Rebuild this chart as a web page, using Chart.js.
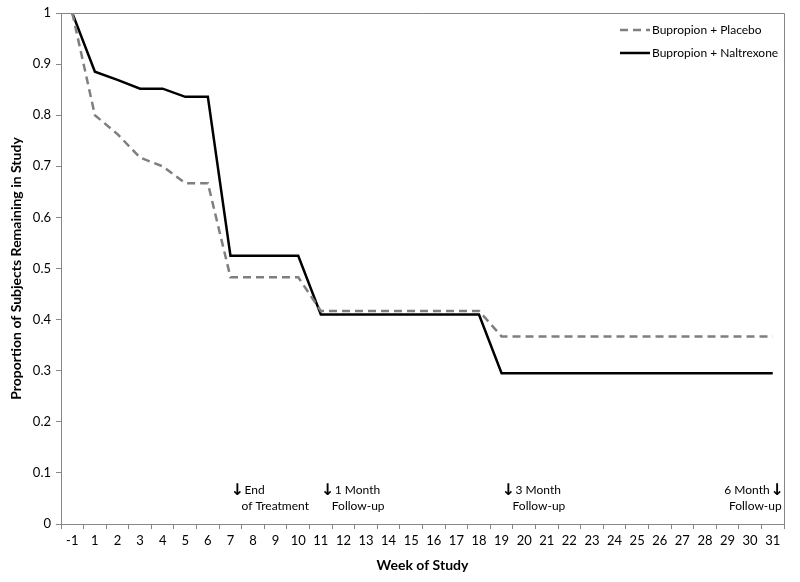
<!DOCTYPE html>
<html>
<head>
<meta charset="utf-8">
<script src="https://cdn.jsdelivr.net/npm/chart.js@4/dist/chart.umd.min.js"></script>
<style>
  html, body { margin: 0; padding: 0; background: #fff; }
  #wrap { width: 800px; height: 582px; }
</style>
</head>
<body>
<div id="wrap"><canvas id="chart" width="800" height="582"></canvas></div>
<script>
// weeks on the x axis (no week 0)
var weeks = ['-1','1','2','3','4','5','6','7','8','9','10','11','12','13','14','15','16','17','18','19','20','21','22','23','24','25','26','27','28','29','30','31'];

// proportion remaining
var placebo = [1.0, 0.80, 0.763, 0.717, 0.70, 0.667, 0.667, 0.483, 0.483, 0.483, 0.483,
  0.417, 0.417, 0.417, 0.417, 0.417, 0.417, 0.417, 0.417,
  0.367, 0.367, 0.367, 0.367, 0.367, 0.367, 0.367, 0.367, 0.367, 0.367, 0.367, 0.367, 0.367];
var naltrexone = [1.0, 0.885, 0.869, 0.852, 0.852, 0.836, 0.836, 0.525, 0.525, 0.525, 0.525,
  0.41, 0.41, 0.41, 0.41, 0.41, 0.41, 0.41, 0.41,
  0.295, 0.295, 0.295, 0.295, 0.295, 0.295, 0.295, 0.295, 0.295, 0.295, 0.295, 0.295, 0.295];

var yTicks = [0, 0.1, 0.2, 0.3, 0.4, 0.5, 0.6, 0.7, 0.8, 0.9, 1];

// study milestones: week label, text lines, arrow side
var milestones = [
  { week: '7',  lines: ['End', 'of Treatment'], side: 'left' },
  { week: '11', lines: ['1 Month', 'Follow-up'], side: 'left' },
  { week: '19', lines: ['3 Month', 'Follow-up'], side: 'left' },
  { week: '31', lines: ['6 Month', 'Follow-up'], side: 'right' }
];

var FONT = 'Lato, "Open Sans", sans-serif';
var AXIS_GREY = '#868686';

// frame, legend and milestone notes
var extras = {
  id: 'extras',
  afterDraw: function(chart) {
    var ctx = chart.ctx, a = chart.chartArea, x = chart.scales.x;
    ctx.save();
    // top + right frame lines
    ctx.strokeStyle = AXIS_GREY;
    ctx.lineWidth = 1;
    ctx.beginPath();
    ctx.moveTo(a.left, a.top + 0.5);
    ctx.lineTo(a.right + 0.5, a.top + 0.5);
    ctx.lineTo(a.right + 0.5, a.bottom);
    ctx.stroke();

    // legend (top right, inside plot)
    ctx.font = '12px ' + FONT;
    ctx.fillStyle = '#000';
    ctx.textBaseline = 'middle';
    ctx.textAlign = 'left';
    chart.data.datasets.forEach(function(ds, i) {
      var ly = a.top + 17 + i * 23;
      var lx = a.right - 164;
      ctx.strokeStyle = ds.borderColor;
      ctx.lineWidth = ds.borderWidth;
      ctx.setLineDash(ds.borderDash || []);
      ctx.beginPath();
      ctx.moveTo(lx, ly);
      ctx.lineTo(lx + 30, ly);
      ctx.stroke();
      ctx.setLineDash([]);
      ctx.fillText(ds.label, lx + 32, ly);
    });

    // milestone notes above the x axis
    var baseY = chart.scales.y.getPixelForValue(0);
    milestones.forEach(function(m) {
      var px = x.getPixelForValue(weeks.indexOf(m.week));
      ctx.fillStyle = '#000';
      ctx.textBaseline = 'alphabetic';
      if (m.side === 'left') {
        ctx.font = 'bold 16px "DejaVu Sans", sans-serif';
        ctx.textAlign = 'left';
        ctx.fillText('\u2193', px + 0, baseY - 29);
        ctx.font = '12px ' + FONT;
        ctx.fillText(m.lines[0], px + 14, baseY - 30);
        ctx.fillText(m.lines[1], px + 11, baseY - 14);
      } else {
        ctx.font = 'bold 16px "DejaVu Sans", sans-serif';
        ctx.textAlign = 'right';
        ctx.fillText('\u2193', px + 11, baseY - 29);
        ctx.font = '12px ' + FONT;
        ctx.fillText(m.lines[0], px - 3, baseY - 30);
        ctx.fillText(m.lines[1], px + 9, baseY - 14);
      }
    });
    ctx.restore();
  }
};

new Chart(document.getElementById('chart'), {
  type: 'line',
  data: {
    labels: weeks,
    datasets: [
      {
        label: 'Bupropion + Placebo',
        data: placebo,
        borderColor: '#7f7f7f',
        borderWidth: 2.5,
        borderDash: [8, 5],
        pointRadius: 0,
        tension: 0,
        fill: false
      },
      {
        label: 'Bupropion + Naltrexone',
        data: naltrexone,
        borderColor: '#000000',
        borderWidth: 2.5,
        pointRadius: 0,
        tension: 0,
        fill: false
      }
    ]
  },
  options: {
    responsive: false,
    animation: false,
    layout: { padding: { left: 6, top: 13, right: 16, bottom: 6 } },
    plugins: {
      legend: { display: false },
      tooltip: { enabled: false }
    },
    scales: {
      x: {
        offset: true,
        border: { color: AXIS_GREY, width: 1 },
        grid: { offset: true, drawOnChartArea: false, drawTicks: true, tickLength: 5, color: AXIS_GREY },
        ticks: { color: '#000', font: { family: FONT, size: 13 }, maxRotation: 0, autoSkip: false, padding: 4 },
        title: { display: true, text: 'Week of Study', color: '#000', font: { family: FONT, size: 14, weight: 'bold' }, padding: { top: 4, bottom: 2 } },
        afterFit: function(s) { s.height = 52; }
      },
      y: {
        min: 0,
        max: 1,
        border: { color: AXIS_GREY, width: 1 },
        grid: { drawOnChartArea: false, drawTicks: true, tickLength: 5, color: AXIS_GREY },
        afterBuildTicks: function(s) { s.ticks = yTicks.map(function(v) { return { value: v }; }); },
        ticks: {
          color: '#000',
          font: { family: FONT, size: 13 },
          padding: 5,
          callback: function(v) { return String(Math.round(v * 10) / 10); }
        },
        title: { display: true, text: 'Proportion of Subjects Remaining in Study', color: '#000', font: { family: FONT, size: 14, weight: 'bold' }, padding: { top: 2, bottom: 2 } },
        afterFit: function(s) { s.width = 55; }
      }
    }
  },
  plugins: [extras]
});
</script>
</body>
</html>
